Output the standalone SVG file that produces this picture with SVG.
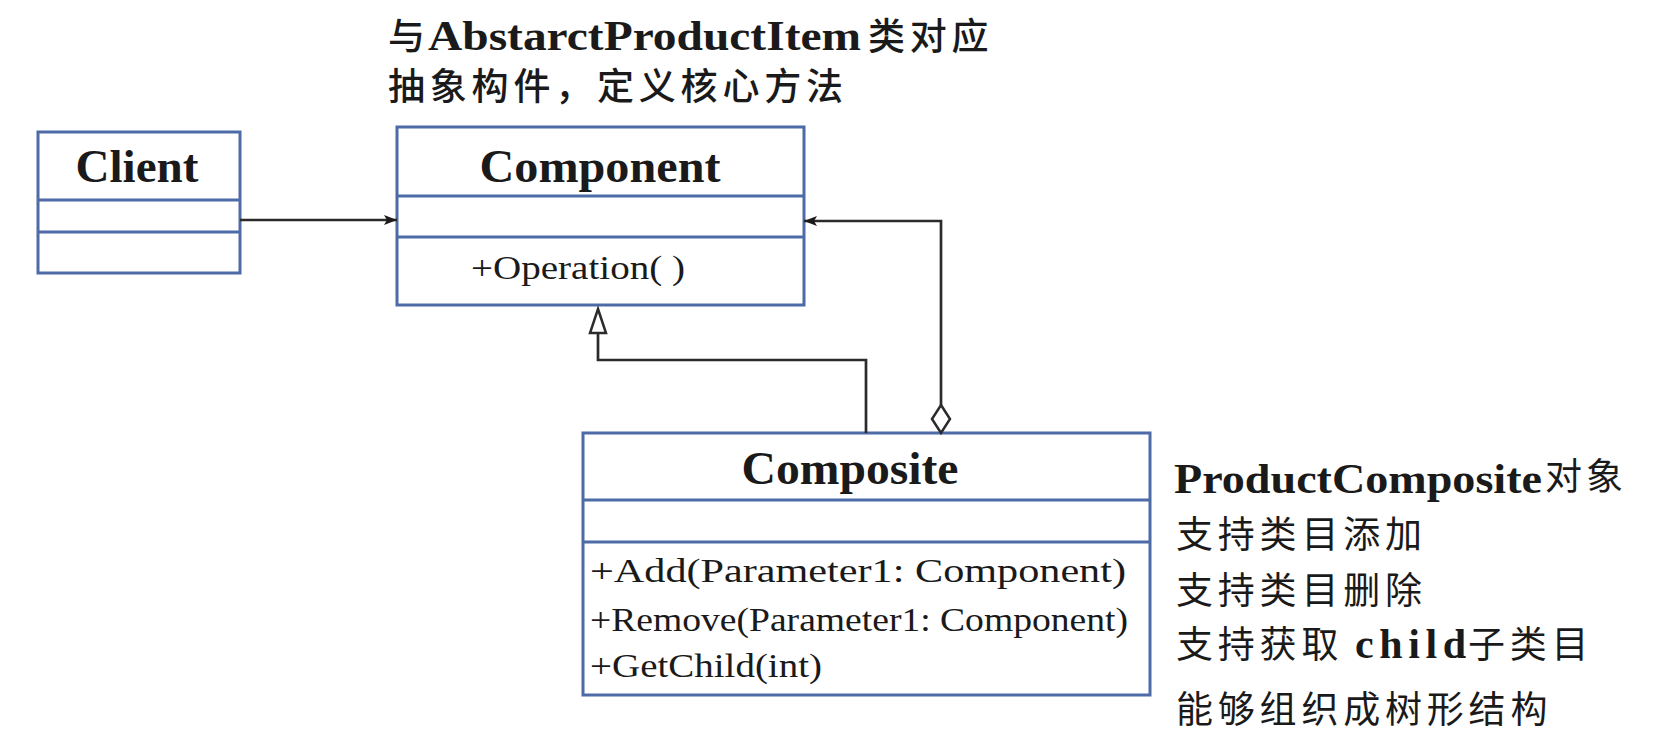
<svg xmlns="http://www.w3.org/2000/svg" width="1677" height="740" viewBox="0 0 1677 740">
<style>
.box{fill:#fff;stroke:#4d6ba6;stroke-width:3}
.sep{stroke:#4d6ba6;stroke-width:3}
.title{font-family:"Liberation Serif",serif;font-weight:bold;font-size:47px;fill:#1a1a1a}
.mem{font-family:"Liberation Serif",serif;font-size:33px;fill:#1a1a1a}
.cjk{font-family:"Liberation Sans","Noto Sans CJK SC",sans-serif;font-size:37px;letter-spacing:4.8px;fill:#1a1a1a}
.cjkb{font-weight:500}
.lat{font-family:"Liberation Serif",serif;font-weight:bold;font-size:42px;fill:#1a1a1a}
.conn{fill:none;stroke:#2b2b2b;stroke-width:2.7}
</style>
<defs>
<marker id="arr" markerWidth="14" markerHeight="12" refX="13" refY="6" orient="auto" markerUnits="userSpaceOnUse">
<path d="M0,1 L13,6 L0,11 L3,6 Z" fill="#1a1a1a"/>
</marker>
</defs>

<g id="notes">
<text class="cjk cjkb" x="388" y="50">与</text>
<text class="lat" x="428" y="50" textLength="433" lengthAdjust="spacingAndGlyphs">AbstarctProductItem</text>
<text class="cjk cjkb" x="868" y="50">类对应</text>
<text class="cjk cjkb" x="388" y="100">抽象构件，定义核心方法</text>
<text class="lat" x="1174" y="493" font-size="45" textLength="368" lengthAdjust="spacingAndGlyphs">ProductComposite</text>
<text class="cjk" x="1545" y="490" font-size="35" style="letter-spacing:4px">对象</text>
<text class="cjk" x="1176" y="548">支持类目添加</text>
<text class="cjk" x="1176" y="604">支持类目删除</text>
<text class="cjk" x="1176" y="658">支持获取</text>
<text class="lat" x="1355" y="658" font-size="41" textLength="111" lengthAdjust="spacing">child</text>
<text class="cjk" x="1468" y="658">子类目</text>
<text class="cjk" x="1176" y="723">能够组织成树形结构</text>
</g>

<g id="client">
<rect class="box" x="38" y="132" width="202" height="141"/>
<line class="sep" x1="38" y1="200" x2="240" y2="200"/>
<line class="sep" x1="38" y1="232" x2="240" y2="232"/>
<text class="title" x="137" y="182" text-anchor="middle" textLength="123" lengthAdjust="spacingAndGlyphs">Client</text>
</g>

<g id="component">
<rect class="box" x="397" y="127" width="407" height="178"/>
<line class="sep" x1="397" y1="196" x2="804" y2="196"/>
<line class="sep" x1="397" y1="237" x2="804" y2="237"/>
<text class="title" x="600" y="182" text-anchor="middle" textLength="241" lengthAdjust="spacingAndGlyphs">Component</text>
<text class="mem" x="471" y="279" textLength="214" lengthAdjust="spacingAndGlyphs">+Operation( )</text>
</g>

<g id="composite">
<rect class="box" x="583" y="433" width="567" height="262"/>
<line class="sep" x1="583" y1="500" x2="1150" y2="500"/>
<line class="sep" x1="583" y1="542" x2="1150" y2="542"/>
<text class="title" x="850" y="484" text-anchor="middle" textLength="217" lengthAdjust="spacingAndGlyphs">Composite</text>
<text class="mem" x="590" y="582" textLength="536" lengthAdjust="spacingAndGlyphs">+Add(Parameter1: Component)</text>
<text class="mem" x="590" y="631" textLength="538" lengthAdjust="spacingAndGlyphs">+Remove(Parameter1: Component)</text>
<text class="mem" x="590" y="677" textLength="232" lengthAdjust="spacingAndGlyphs">+GetChild(int)</text>
</g>

<g id="connectors">
<path class="conn" d="M240,220 L397,220" marker-end="url(#arr)"/>
<path class="conn" d="M866,433 L866,360 L598,360 L598,333"/>
<path d="M598,309 L606,333 L590,333 Z" fill="#fff" stroke="#2b2b2b" stroke-width="2.5"/>
<path class="conn" d="M941,405 L941,221 L804,221" marker-end="url(#arr)"/>
<path d="M941,405 L950,419 L941,433 L932,419 Z" fill="#fff" stroke="#2b2b2b" stroke-width="2.5"/>
</g>
</svg>
